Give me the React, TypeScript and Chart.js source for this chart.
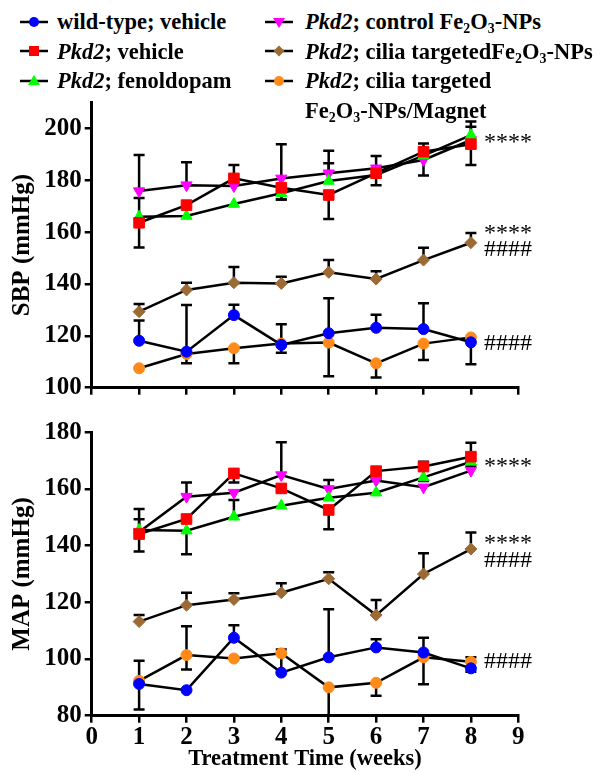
import React, { useEffect, useRef } from 'react';
import { Chart, registerables } from 'chart.js';

Chart.register(...registerables);

const FONT = "'Liberation Serif', 'Times New Roman', Times, serif";

// ---------- data ----------
const weeks = [1, 2, 3, 4, 5, 6, 7, 8];

// SBP (mmHg)
const sbpWildType = [118.1, 113.9, 128.0, 116.5, 121.0, 123.1, 122.6, 117.5];
const sbpWildTypeErrUp = [7.8, 18, 4, 8, 13.5, 5, 10, 0];
const sbpWildTypeErrDown = [0, 0, 0, 3, 0, 0, 0, 8.5];
const sbpPkd2Vehicle = [163.6, 170.4, 180.7, 177.1, 174.3, 182.7, 191.0, 193.9];
const sbpPkd2VehicleErrUp = [9.5, 0, 5.2, 0, 0, 6.6, 3.2, 8.7];
const sbpPkd2VehicleErrDown = [9.5, 0, 0, 4.5, 9.3, 4.6, 0, 8];
const sbpFenoldopam = [165.9, 166.2, 170.8, 175.0, 179.7, 182.0, 189.5, 197.4];
const sbpFenoldopamErrUp = [0, 0, 0, 0, 6.8, 0, 0, 3.2];
const sbpFenoldopamErrDown = [0, 0, 0, 2.4, 0, 0, 0, 0];
const sbpControlNP = [175.8, 178.1, 177.8, 180.7, 182.7, 184.6, 187.8, 195.5];
const sbpControlNPErrUp = [13.9, 8.8, 0, 13.2, 8.7, 0, 0, 0];
const sbpControlNPErrDown = [0, 0, 0, 0, 0, 0, 6, 0];
const sbpCiliaNP = [129.3, 137.7, 140.5, 140.2, 144.5, 141.9, 149.2, 155.9];
const sbpCiliaNPErrUp = [3, 2.8, 6, 2.6, 4.7, 3, 4.8, 3.7];
const sbpCiliaNPErrDown = [0, 0, 0, 0, 0, 0, 0, 0];
const sbpCiliaMagnet = [107.5, 113.0, 115.2, 117.0, 117.4, 109.4, 117.0, 119.4];
const sbpCiliaMagnetErrUp = [0, 0, 0, 0, 0, 0, 0, 0];
const sbpCiliaMagnetErrDown = [0, 3.6, 5.8, 0, 13, 5.5, 6.3, 0];

// MAP (mmHg)
const mapWildType = [91.2, 89.0, 107.5, 95.2, 100.6, 104.1, 102.3, 96.7];
const mapWildTypeErrUp = [0, 0, 4.4, 8.2, 17, 2.9, 5.2, 0];
const mapWildTypeErrDown = [9, 0, 0, 0, 0, 0, 0, 1.2];
const mapPkd2Vehicle = [144.1, 149.4, 165.5, 160.2, 152.6, 166.3, 167.9, 171.4];
const mapPkd2VehicleErrUp = [8.8, 0, 0, 0, 0, 0, 1.7, 4.9];
const mapPkd2VehicleErrDown = [6.2, 0, 3.2, 0, 6.8, 3, 0, 0];
const mapFenoldopam = [145.5, 145.3, 150.2, 154.1, 156.9, 158.7, 164.1, 169.6];
const mapFenoldopamErrUp = [0, 0, 5.9, 0, 0, 0, 0, 0];
const mapFenoldopamErrDown = [0, 8.3, 0, 0, 0, 0, 1.3, 1.7];
const mapControlNP = [144.8, 157.3, 158.7, 164.9, 160.0, 163.0, 160.6, 166.5];
const mapControlNPErrUp = [4.5, 5, 0, 11.6, 3.2, 1, 0, 0];
const mapControlNPErrDown = [0, 0, 0, 0, 0, 0, 0, 0];
const mapCiliaNP = [113.2, 119.0, 121.0, 123.4, 128.3, 115.5, 130.0, 138.8];
const mapCiliaNPErrUp = [2.3, 4.4, 2.2, 3.3, 2.3, 5.3, 7.3, 5.8];
const mapCiliaNPErrDown = [0, 0, 0, 0, 0, 0, 0, 0];
const mapCiliaMagnet = [92.3, 101.4, 100.2, 102.0, 90.0, 91.6, 100.6, 99.0];
const mapCiliaMagnetErrUp = [7.1, 10.2, 0, 0, 0, 0, 0, 1.6];
const mapCiliaMagnetErrDown = [0, 5.1, 0, 0, 10, 4.6, 9.5, 0];

// axis ticks
const xTickValues = [0, 1, 2, 3, 4, 5, 6, 7, 8, 9];
const sbpTickValues = [100, 120, 140, 160, 180, 200];
const mapTickValues = [80, 100, 120, 140, 160, 180];

// significance marks (text, y value of baseline)
const sbpMarks = [
  { text: '****', y: 192.2 },
  { text: '****', y: 157.1 },
  { text: '####', y: 150.6 },
  { text: '####', y: 114.5 },
];
const mapMarks = [
  { text: '****', y: 165.6 },
  { text: '****', y: 138.6 },
  { text: '####', y: 132.6 },
  { text: '####', y: 96.8 },
];

// ---------- styles ----------
const seriesStyles = [
  { color: '#0000FF', pointStyle: 'circle', radius: 5.5, rotation: 0 },
  { color: '#FF0000', pointStyle: 'rect', radius: 7.5, rotation: 0 },
  { color: '#00FF00', pointStyle: 'triangle', radius: 6.5, rotation: 0 },
  { color: '#FF00FF', pointStyle: 'triangle', radius: 6.5, rotation: 180 },
  { color: '#9C6A35', pointStyle: 'rectRot', radius: 6, rotation: 0 },
  { color: '#FF8A1A', pointStyle: 'circle', radius: 5.5, rotation: 0 },
];

function buildDatasets(values: number[][], ups: number[][], downs: number[][]) {
  return values.map((vals, s) => {
    const st = seriesStyles[s];
    return {
      data: weeks.map((w, i) => ({ x: w, y: vals[i] })),
      errUp: ups[s],
      errDown: downs[s],
      borderColor: '#000',
      borderWidth: 2.5,
      pointStyle: st.pointStyle,
      pointRadius: st.radius,
      pointRotation: st.rotation,
      pointBackgroundColor: st.color,
      pointBorderColor: st.color,
      pointBorderWidth: 1,
      tension: 0,
      clip: false,
    } as any;
  });
}

const errorBarPlugin = {
  id: 'errorBars',
  beforeDatasetsDraw(chart: any) {
    const { ctx, chartArea, scales } = chart;
    const xs = scales.x;
    const ys = scales.y;
    ctx.save();
    ctx.strokeStyle = '#000';
    ctx.lineWidth = 2.5;
    ctx.lineCap = 'butt';
    const cap = 5.5;
    chart.data.datasets.forEach((ds: any) => {
      ds.data.forEach((p: any, i: number) => {
        const up = ds.errUp ? ds.errUp[i] : 0;
        const dn = ds.errDown ? ds.errDown[i] : 0;
        if (!up && !dn) return;
        const px = xs.getPixelForValue(p.x);
        const py = ys.getPixelForValue(p.y);
        ctx.beginPath();
        if (up) {
          const yt = Math.max(ys.getPixelForValue(p.y + up), chartArea.top - 10);
          ctx.moveTo(px, py);
          ctx.lineTo(px, yt);
          ctx.moveTo(px - cap, yt);
          ctx.lineTo(px + cap, yt);
        }
        if (dn) {
          const yb = Math.min(ys.getPixelForValue(p.y - dn), chartArea.bottom);
          ctx.moveTo(px, py);
          ctx.lineTo(px, yb);
          ctx.moveTo(px - cap, yb);
          ctx.lineTo(px + cap, yb);
        }
        ctx.stroke();
      });
    });
    ctx.restore();
  },
};

const marksPlugin = {
  id: 'sigMarks',
  afterDatasetsDraw(chart: any, _args: any, opts: any) {
    const items = (opts && opts.items) || [];
    const { ctx, scales } = chart;
    ctx.save();
    ctx.fillStyle = '#000';
    ctx.font = `normal 24px ${FONT}`;
    ctx.textAlign = 'left';
    ctx.textBaseline = 'alphabetic';
    const x0 = scales.x.getPixelForValue(weeks[weeks.length - 1]) + 13;
    items.forEach((m: any) => {
      ctx.fillText(m.text, x0, scales.y.getPixelForValue(m.y));
    });
    ctx.restore();
  },
};

type ChartSpec = {
  datasets: any[];
  yMin: number;
  yMax: number;
  yTicks: number[];
  yTitle: string;
  showXLabels: boolean;
  marks: { text: string; y: number }[];
  width: number;
  height: number;
  padTop: number;
  xAxisHeight: number;
};

function makeConfig(spec: ChartSpec): any {
  const yTickSet = spec.yTicks;
  return {
    type: 'line',
    data: { datasets: spec.datasets },
    plugins: [errorBarPlugin, marksPlugin],
    options: {
      animation: false,
      responsive: false,
      devicePixelRatio: 1,
      events: [],
      layout: { padding: { top: spec.padTop, left: 0, right: 600 - 518.3, bottom: 0 } },
      plugins: {
        legend: { display: false },
        tooltip: { enabled: false },
        sigMarks: { items: spec.marks },
      },
      scales: {
        x: {
          type: 'linear',
          min: 0,
          max: 9,
          afterBuildTicks: (scale: any) => {
            scale.ticks = xTickValues.map((v) => ({ value: v }));
          },
          afterFit: (scale: any) => {
            scale.height = spec.xAxisHeight;
          },
          ticks: {
            display: spec.showXLabels,
            color: '#000',
            padding: 0,
            font: { family: FONT, size: 25, weight: 'bold' },
            maxRotation: 0,
          },
          grid: {
            display: true,
            drawOnChartArea: false,
            drawTicks: true,
            tickLength: 7,
            color: '#000',
            lineWidth: 2.5,
          },
          border: { display: true, color: '#000', width: 3 },
          title: {
            display: spec.showXLabels,
            text: 'Treatment Time (weeks)',
            color: '#000',
            font: { family: FONT, size: 22.5, weight: 'bold' },
            padding: { top: 0, bottom: 0 },
          },
        },
        y: {
          type: 'linear',
          min: spec.yMin,
          max: spec.yMax,
          afterBuildTicks: (scale: any) => {
            scale.ticks = yTickSet.map((v) => ({ value: v }));
          },
          afterFit: (scale: any) => {
            scale.width = 91.7;
          },
          ticks: {
            color: '#000',
            padding: 3,
            font: { family: FONT, size: 25, weight: 'bold' },
          },
          grid: {
            display: true,
            drawOnChartArea: false,
            drawTicks: true,
            tickLength: 7,
            color: '#000',
            lineWidth: 2.5,
          },
          border: { display: true, color: '#000', width: 3 },
          title: {
            display: true,
            text: spec.yTitle,
            color: '#000',
            font: { family: FONT, size: 25, weight: 'bold' },
            padding: { top: 8, bottom: 0 },
          },
        },
      },
    },
  };
}

function ChartCanvas({ spec, top }: { spec: ChartSpec; top: number }) {
  const ref = useRef<HTMLCanvasElement | null>(null);
  useEffect(() => {
    if (!ref.current) return;
    const chart = new Chart(ref.current, makeConfig(spec));
    return () => chart.destroy();
  }, []);
  return (
    <canvas
      ref={ref}
      width={spec.width}
      height={spec.height}
      style={{ position: 'absolute', left: 0, top, width: spec.width, height: spec.height }}
    />
  );
}

// ---------- legend ----------
function Marker({ idx }: { idx: number }) {
  const st = seriesStyles[idx];
  const c = st.color;
  let shape: any = null;
  if (idx === 0 || idx === 5) shape = <circle cx={14} cy={8} r={5} fill={c} />;
  else if (idx === 1) shape = <rect x={9} y={3} width={10} height={10} fill={c} />;
  else if (idx === 2) shape = <polygon points="14,2 20,12 8,12" fill={c} />;
  else if (idx === 3) shape = <polygon points="8,4 20,4 14,14" fill={c} />;
  else shape = <polygon points="14,2.5 19.5,8 14,13.5 8.5,8" fill={c} />;
  return (
    <svg width={28} height={16} style={{ display: 'block' }}>
      <line x1={0} y1={8} x2={28} y2={8} stroke="#000" strokeWidth={2.5} />
      {shape}
    </svg>
  );
}

const Sub = ({ children }: { children: any }) => (
  <span style={{ fontSize: '0.62em', position: 'relative', top: '0.3em' }}>{children}</span>
);
const Pkd2 = () => <i>Pkd2</i>;
const FeO = () => (
  <>
    Fe<Sub>2</Sub>O<Sub>3</Sub>
  </>
);

const legendItems = [
  { idx: 0, col: 0, row: 0, content: <>wild-type; vehicle</> },
  { idx: 1, col: 0, row: 1, content: <><Pkd2 />; vehicle</> },
  { idx: 2, col: 0, row: 2, content: <><Pkd2 />; fenoldopam</> },
  { idx: 3, col: 1, row: 0, content: <><Pkd2 />; control <FeO />-NPs</> },
  { idx: 4, col: 1, row: 1, content: <><Pkd2 />; cilia targeted<FeO />-NPs</> },
  {
    idx: 5,
    col: 1,
    row: 2,
    content: (
      <>
        <Pkd2 />; cilia targeted
        <br />
        <FeO />-NPs/Magnet
      </>
    ),
  },
];

function Legend() {
  const rowH = 29.5;
  return (
    <>
      {legendItems.map((it) => {
        const textLeft = it.col === 0 ? 57 : 305;
        const markLeft = it.col === 0 ? 20 : 265;
        const top = 7.2 + rowH * it.row;
        return (
          <React.Fragment key={it.idx}>
            <div style={{ position: 'absolute', left: markLeft, top: top + 22.1 - 7.5 - 8 }}>
              <Marker idx={it.idx} />
            </div>
            <div
              style={{
                position: 'absolute',
                left: textLeft,
                top,
                whiteSpace: 'nowrap',
                fontFamily: FONT,
                fontWeight: 'bold',
                fontSize: '22.5px',
                lineHeight: `${rowH}px`,
                color: '#000',
              }}
            >
              {it.content}
            </div>
          </React.Fragment>
        );
      })}
    </>
  );
}

const topSpec: ChartSpec = {
  datasets: buildDatasets(
    [sbpWildType, sbpPkd2Vehicle, sbpFenoldopam, sbpControlNP, sbpCiliaNP, sbpCiliaMagnet],
    [sbpWildTypeErrUp, sbpPkd2VehicleErrUp, sbpFenoldopamErrUp, sbpControlNPErrUp, sbpCiliaNPErrUp, sbpCiliaMagnetErrUp],
    [sbpWildTypeErrDown, sbpPkd2VehicleErrDown, sbpFenoldopamErrDown, sbpControlNPErrDown, sbpCiliaNPErrDown, sbpCiliaMagnetErrDown]
  ),
  yMin: 100,
  yMax: 210,
  yTicks: sbpTickValues,
  yTitle: 'SBP (mmHg)',
  showXLabels: false,
  marks: sbpMarks,
  width: 600,
  height: 350,
  padTop: 42.4,
  xAxisHeight: 22.3,
};

const bottomSpec: ChartSpec = {
  datasets: buildDatasets(
    [mapWildType, mapPkd2Vehicle, mapFenoldopam, mapControlNP, mapCiliaNP, mapCiliaMagnet],
    [mapWildTypeErrUp, mapPkd2VehicleErrUp, mapFenoldopamErrUp, mapControlNPErrUp, mapCiliaNPErrUp, mapCiliaMagnetErrUp],
    [mapWildTypeErrDown, mapPkd2VehicleErrDown, mapFenoldopamErrDown, mapControlNPErrDown, mapCiliaNPErrDown, mapCiliaMagnetErrDown]
  ),
  yMin: 80,
  yMax: 180,
  yTicks: mapTickValues,
  yTitle: 'MAP (mmHg)',
  showXLabels: true,
  marks: mapMarks,
  width: 600,
  height: 363,
  padTop: 22.3,
  xAxisHeight: 57.3,
};

export default function App() {
  return (
    <div
      style={{
        position: 'absolute',
        left: 0,
        top: 0,
        width: 600,
        height: 773,
        background: '#fff',
        overflow: 'hidden',
      }}
    >
      <ChartCanvas spec={topSpec} top={60} />
      <ChartCanvas spec={bottomSpec} top={410} />
      <Legend />
    </div>
  );
}
